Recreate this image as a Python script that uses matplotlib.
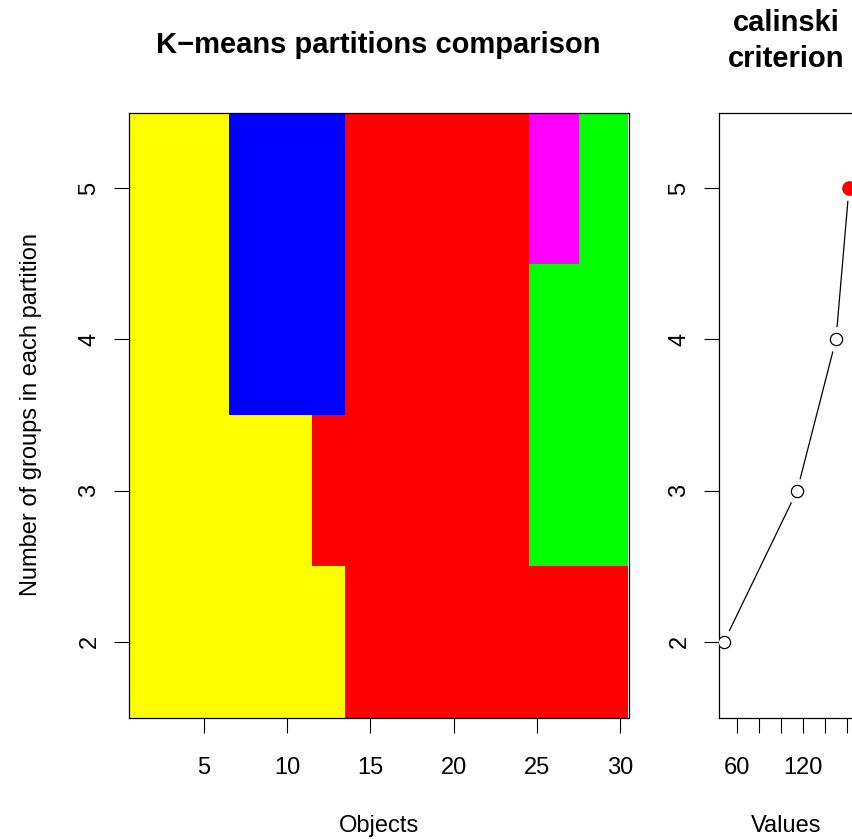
import matplotlib.pyplot as plt
from matplotlib.colors import ListedColormap
import numpy as np

# ------------------------------
# Data: cluster label of each object for k = 2..5
# labels: 1 yellow, 2 red, 3 green, 4 blue, 5 magenta
# ------------------------------

objects = list(range(1, 31))
groups = [2, 3, 4, 5]

k2 = [1, 1, 1, 1, 1, 1, 1, 1, 1, 1, 1, 1, 1, 2, 2, 2, 2, 2, 2, 2, 2, 2, 2, 2, 2, 2, 2, 2, 2, 2]
k3 = [1, 1, 1, 1, 1, 1, 1, 1, 1, 1, 1, 2, 2, 2, 2, 2, 2, 2, 2, 2, 2, 2, 2, 2, 3, 3, 3, 3, 3, 3]
k4 = [1, 1, 1, 1, 1, 1, 4, 4, 4, 4, 4, 4, 4, 2, 2, 2, 2, 2, 2, 2, 2, 2, 2, 2, 3, 3, 3, 3, 3, 3]
k5 = [1, 1, 1, 1, 1, 1, 4, 4, 4, 4, 4, 4, 4, 2, 2, 2, 2, 2, 2, 2, 2, 2, 2, 2, 5, 5, 5, 3, 3, 3]

label_colors = ["#FFFF00", "#FF0000", "#00FF00", "#0000FF", "#FF00FF"]

calinski = [48.5, 114.8, 150.0, 161.8]

xticks_left = [5, 10, 15, 20, 25, 30]
xticks_right = [60, 80, 100, 120, 140, 160]
xticklabels_right = ["60", "", "", "120", "", ""]

plt.rcParams["font.family"] = ["Liberation Sans", "DejaVu Sans"]

W, H = 853, 839
fig = plt.figure(figsize=(W / 100, H / 100), dpi=100)

def ax_rect(x0, y0, x1, y1):
    return [x0 / W, 1 - y1 / H, (x1 - x0) / W, (y1 - y0) / H]

# ------------------------------
# Left panel: partitions
# ------------------------------

ax1 = fig.add_axes(ax_rect(129, 112.5, 628.5, 717.5))
grid = np.array([k2, k3, k4, k5])
xe = np.arange(0.5, len(objects) + 1, 1)
ye = np.arange(1.5, 6, 1)
cmap = ListedColormap(label_colors)
ax1.pcolormesh(xe, ye, grid, cmap=cmap, vmin=0.5, vmax=5.5)
ax1.set_xlim(0.5, 30.5)
ax1.set_ylim(1.5, 5.5)
ax1.set_xticks(xticks_left)
ax1.set_yticks(groups)
ax1.set_yticklabels([str(g) for g in groups], rotation=90, va="center")
ax1.tick_params(length=10.5, width=0.8, labelsize=17)
ax1.tick_params(axis="x", pad=18)
ax1.tick_params(axis="y", pad=10)
for s in ax1.spines.values():
    s.set_linewidth(0.9)
ax1.set_title("K\u2212means partitions comparison", fontsize=21, fontweight="bold", pad=43)
ax1.set_xlabel("Objects", fontsize=17, labelpad=26)
ax1.set_ylabel("Number of groups in each partition", fontsize=17, labelpad=26)

# ------------------------------
# Right panel: calinski criterion
# ------------------------------

ax2 = fig.add_axes(ax_rect(719, 112.5, 854, 717.5))
ax2.plot(calinski, groups, color="black", linewidth=0.9, zorder=1)
ax2.plot(calinski, groups, linestyle="none", marker="o", markersize=17,
         markerfacecolor="white", markeredgecolor="white", zorder=2)
ax2.plot(calinski, groups, linestyle="none", marker="o", markersize=8.8,
         markerfacecolor="white", markeredgecolor="black", markeredgewidth=0.9, zorder=3)
best = int(np.argmax(calinski))
ax2.plot(calinski[best], groups[best], linestyle="none", marker="o", markersize=9.5,
         markerfacecolor="red", markeredgecolor="red", zorder=4)
span = max(calinski) - min(calinski)
ax2.set_xlim(min(calinski) - 0.04 * span, max(calinski) + 0.04 * span)
ax2.set_ylim(1.5, 5.5)
ax2.set_xticks(xticks_right)
ax2.set_xticklabels(xticklabels_right)
ax2.set_yticks(groups)
ax2.set_yticklabels([str(g) for g in groups], rotation=90, va="center")
ax2.tick_params(length=10.5, width=0.8, labelsize=17)
ax2.tick_params(axis="x", pad=18)
ax2.tick_params(axis="y", pad=10)
for s in ax2.spines.values():
    s.set_linewidth(0.9)
ax2.set_title("calinski\ncriterion", fontsize=21, fontweight="bold", pad=33, linespacing=1.35)
ax2.set_xlabel("Values", fontsize=17, labelpad=26)

fig.savefig("out.png", dpi=100)
